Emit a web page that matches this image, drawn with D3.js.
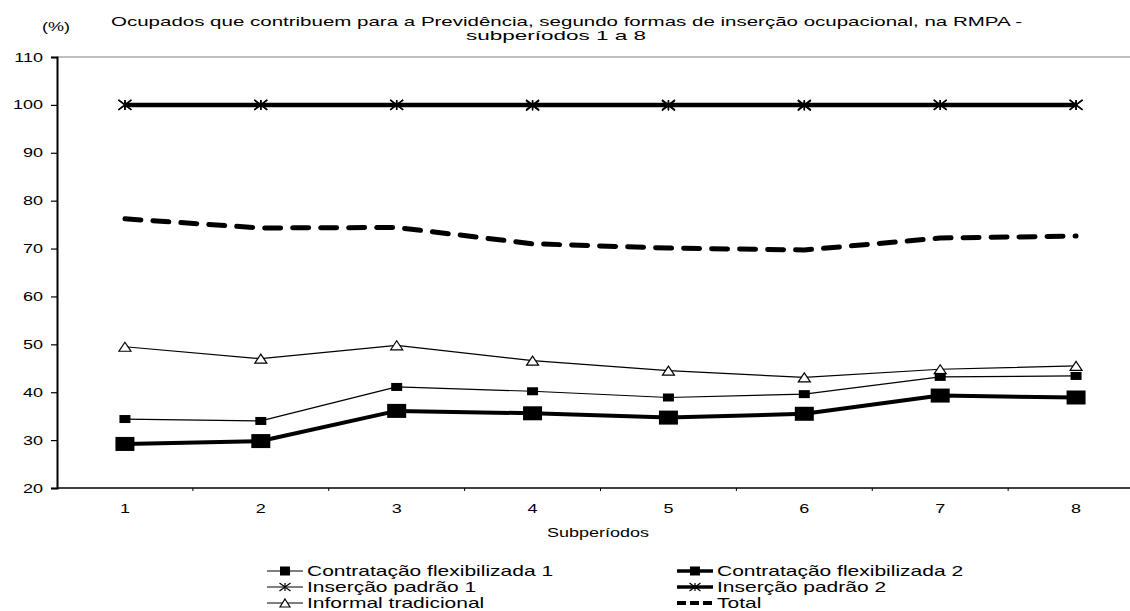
<!DOCTYPE html>
<html><head><meta charset="utf-8">
<script src="https://cdn.jsdelivr.net/npm/d3@7/dist/d3.min.js"></script>
<style>
html,body{margin:0;padding:0;background:#fff;overflow:hidden;}
svg{display:block;font-family:"Liberation Sans",Arial,sans-serif;}
</style></head>
<body>
<svg id="chart" width="1130" height="611"></svg>
<script>
const categories = ["1","2","3","4","5","6","7","8"];
const flex1    = [34.4,34.0,41.1,40.2,38.9,39.6,43.2,43.4];
const flex2    = [29.2,29.8,36.1,35.6,34.7,35.5,39.3,38.9];
const padrao1  = [100,100,100,99.8,99.8,99.8,100,100];
const padrao2  = [100,100,100,100,100,100,100,100];
const informal = [49.5,47.0,49.8,46.6,44.5,43.1,44.8,45.5];
const total    = [76.2,74.3,74.4,71.0,70.1,69.7,72.2,72.6];
const yTicks   = [20,30,40,50,60,70,80,90,100,110];
const titleLines = ["Ocupados que contribuem para a Previdência, segundo formas de inserção ocupacional, na RMPA -","subperíodos 1 a 8"];
const yUnit = "(%)";
const xTitle = "Subperíodos";
const seriesNames = ["Contratação flexibilizada 1","Contratação flexibilizada 2","Inserção padrão 1","Inserção padrão 2","Informal tradicional","Total"];

(function(){
const SX = 1.5; // horizontal text stretch seen in reference
const svg = d3.select("#chart");
const pL = 57, pR = 1144, pT = 57, pB = 488;
const x = d3.scaleBand().domain(categories).range([pL, pR]);
const cx = c => x(c) + x.bandwidth()/2;
const y = d3.scaleLinear().domain([20,110]).range([pB, pT]);

function stext(g, str, px, py, size, anchor){
  return g.append("text")
    .attr("transform", `translate(${px},${py}) scale(${SX},1)`)
    .attr("text-anchor", anchor || "start")
    .attr("font-size", size)
    .attr("fill", "#000")
    .text(str);
}

// top border (gray)
svg.append("line").attr("x1", pL).attr("x2", pR).attr("y1", y(110)).attr("y2", y(110))
  .attr("stroke", "#c0c0c0").attr("stroke-width", 2);

// y axis
const yAxis = d3.axisLeft(y).tickValues(yTicks).tickSize(6).tickFormat("");
const gy = svg.append("g").attr("transform", `translate(${pL},0)`).call(yAxis);
gy.select(".domain").attr("stroke","#000").attr("stroke-width",2);
gy.selectAll(".tick line").attr("stroke","#000").attr("stroke-width",1.2);
yTicks.forEach(t => stext(svg, String(t), 43, y(t)+4.5, 12, "end"));

// x axis
svg.append("line").attr("x1", pL).attr("x2", pR).attr("y1", pB).attr("y2", pB)
  .attr("stroke","#000").attr("stroke-width",1.5);
categories.slice(1).forEach(c => {
  svg.append("line").attr("x1", x(c)).attr("x2", x(c)).attr("y1", pB).attr("y2", pB+3)
    .attr("stroke","#000").attr("stroke-width",1);
});
categories.forEach(c => stext(svg, c, cx(c), 513, 12, "middle"));

// titles
svg.append("text").attr("x", 111).attr("y", 26).attr("font-size", 13.5)
  .attr("textLength", 911).attr("lengthAdjust","spacingAndGlyphs").text(titleLines[0]);
svg.append("text").attr("x", 556 - 90).attr("y", 40).attr("font-size", 13.5)
  .attr("textLength", 180).attr("lengthAdjust","spacingAndGlyphs").text(titleLines[1]);
stext(svg, yUnit, 56, 31, 12, "middle");
stext(svg, xTitle, 598, 537, 12, "middle");

// markers
function squareMarker(g, px, py, w, h){
  g.append("rect").attr("x", px-w/2).attr("y", py-h/2).attr("width", w).attr("height", h).attr("fill","#000");
}
function triMarker(g, px, py, w, h){
  g.append("path").attr("d", `M${px},${py-h/2}L${px+w/2},${py+h/2}L${px-w/2},${py+h/2}Z`)
    .attr("fill","#fff").attr("stroke","#000").attr("stroke-width",1.2);
}
function starMarker(g, px, py, w, h, sw){
  g.append("path").attr("d", `M${px-w/2},${py-h/2}L${px+w/2},${py+h/2}M${px-w/2},${py+h/2}L${px+w/2},${py-h/2}M${px},${py-h/2}L${px},${py+h/2}`)
    .attr("stroke","#000").attr("stroke-width",sw||1.5).attr("fill","none");
}

const line = d3.line().x((d,i) => cx(categories[i])).y(d => y(d));
function drawLine(data, w, dash){
  const p = svg.append("path").datum(data).attr("d", line).attr("fill","none")
    .attr("stroke","#000").attr("stroke-width", w).attr("stroke-linejoin","round");
  if (dash) p.attr("stroke-dasharray", dash).attr("stroke-linecap","round");
  return p;
}

drawLine(total, 5, "16,12");
drawLine(informal, 1.2);
informal.forEach((v,i) => triMarker(svg, cx(categories[i]), y(v), 12, 9));
drawLine(flex1, 1.2);
flex1.forEach((v,i) => squareMarker(svg, cx(categories[i]), y(v), 11, 8));
drawLine(flex2, 4);
flex2.forEach((v,i) => squareMarker(svg, cx(categories[i]), y(v), 19, 14));
drawLine(padrao2, 4.5);
padrao2.forEach((v,i) => starMarker(svg, cx(categories[i]), y(v), 13, 10, 1.6));
drawLine(padrao1, 1.2);
padrao1.forEach((v,i) => starMarker(svg, cx(categories[i]), y(v), 13, 10, 1.2));

// legend
const leg = svg.append("g");
const legItems = [
  {name: seriesNames[0], col:0, row:0, w:1.2, mk:"sq"},
  {name: seriesNames[1], col:1, row:0, w:3.5, mk:"sq"},
  {name: seriesNames[2], col:0, row:1, w:1.2, mk:"star"},
  {name: seriesNames[3], col:1, row:1, w:3.5, mk:"star"},
  {name: seriesNames[4], col:0, row:2, w:1.2, mk:"tri"},
  {name: seriesNames[5], col:1, row:2, w:4, mk:"dash"}
];
const colX = [267, 677], rowY = [571, 587, 603];
legItems.forEach(it => {
  const x0 = colX[it.col], yy = rowY[it.row], x1 = x0 + 36;
  const l = leg.append("line").attr("x1", x0).attr("x2", x1).attr("y1", yy).attr("y2", yy)
    .attr("stroke","#000").attr("stroke-width", it.w);
  if (it.mk === "dash") l.attr("stroke-dasharray","9,4");
  const mx = (x0+x1)/2;
  if (it.mk === "sq") squareMarker(leg, mx, yy, 10, 9);
  if (it.mk === "star") starMarker(leg, mx, yy, 11, 8, 1.2);
  if (it.mk === "tri") triMarker(leg, mx, yy, 10, 8);
  stext(leg, it.name, x1 + 4, yy + 5, 14, "start");
});
})();
</script>
</body></html>
